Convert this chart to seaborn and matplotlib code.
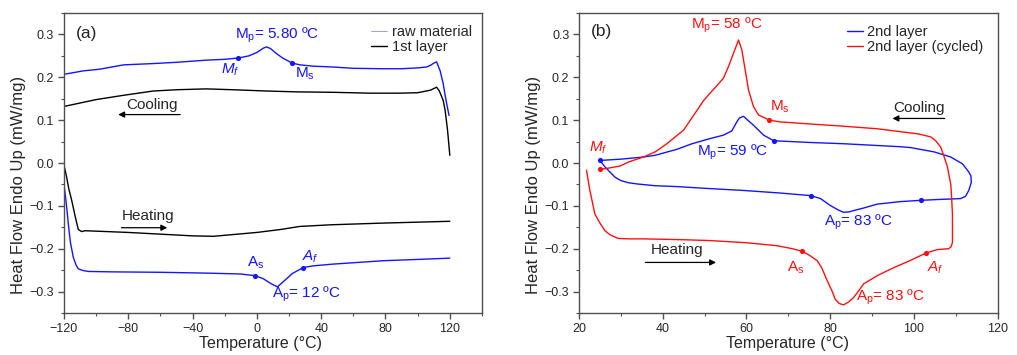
import matplotlib
matplotlib.use("Agg")
import matplotlib.pyplot as plt
from matplotlib.ticker import MultipleLocator
import pandas as pd
import seaborn as sns

# ---- data (temperature in C, heat flow in mW/mg) ----
# panel (a): raw material, cooling and heating runs
raw_cool_T = [119.5, 118, 117, 115.9, 114, 111.8, 110, 108, 105.5, 100, 90, 78.6, 60, 47.5, 35,
              27, 22, 19, 16, 12, 8.5, 6, 4, 0, -5, -11.6, -20, -31.5, -50, -65, -83, -97.6,
              -108, -120]
raw_cool_H = [0.111, 0.14, 0.16, 0.185, 0.215, 0.236, 0.233, 0.228, 0.224, 0.222, 0.220, 0.220,
              0.221, 0.224, 0.226, 0.229, 0.233, 0.239, 0.245, 0.256, 0.267, 0.271, 0.268, 0.258,
              0.250, 0.245, 0.242, 0.240, 0.235, 0.232, 0.229, 0.219, 0.215, 0.207]
raw_heat_T = [-120, -119, -118, -117.3, -116, -114.2, -112.5, -111.1, -108, -104.9, -90, -60, -30,
              -10, -1, 4, 9, 12.8, 17, 22, 28.8, 35, 47, 78.6, 100, 120]
raw_heat_H = [-0.05, -0.08, -0.115, -0.142, -0.185, -0.22, -0.238, -0.247, -0.251, -0.253, -0.254,
              -0.255, -0.257, -0.259, -0.263, -0.270, -0.282, -0.289, -0.275, -0.258, -0.244,
              -0.240, -0.236, -0.228, -0.225, -0.222]

# panel (a): 1st layer
l1_cool_T = [120, 119, 118.5, 117, 115.9, 113.5, 111.8, 108, 100, 89, 70, 47.5, 25, 6, -15,
             -31.5, -50, -64.5, -83, -100, -110, -120]
l1_cool_H = [0.018, 0.06, 0.08, 0.125, 0.146, 0.168, 0.177, 0.170, 0.164, 0.163, 0.163, 0.165,
             0.166, 0.168, 0.171, 0.173, 0.171, 0.168, 0.158, 0.148, 0.140, 0.132]
l1_heat_T = [-120, -118.5, -117, -115.2, -113, -111.1, -109, -107, -100, -80, -60, -40, -27, -15,
             0, 15, 26.6, 47, 80, 120]
l1_heat_H = [-0.005, -0.03, -0.06, -0.087, -0.125, -0.155, -0.160, -0.158, -0.159, -0.162, -0.166,
             -0.170, -0.171, -0.167, -0.162, -0.155, -0.148, -0.144, -0.140, -0.136]

# panel (b): 2nd layer, one closed loop (heating then cooling)
l2_T = [25, 26.2, 27.4, 28.6, 30, 31.8, 34, 38.2, 43.4, 50, 59.3, 68, 75.3, 77.7, 80, 82, 83.2,
        84.5, 85.6, 88, 91.2, 96.8, 101.8, 106, 108.8, 111.1, 112.3, 113.1, 113.7, 113.6, 113.1,
        111.6, 108.8, 104.8, 99.2, 96.8, 91, 83.2, 75, 66.5, 64.1, 61.7, 60.3, 59.3, 58.3, 57.7,
        56.5, 54.5, 51.3, 47, 43.4, 38.2, 35.4, 30, 25]
l2_H = [0.006, -0.009, -0.021, -0.033, -0.041, -0.046, -0.049, -0.053, -0.055, -0.059, -0.064,
        -0.070, -0.076, -0.083, -0.099, -0.110, -0.115, -0.114, -0.111, -0.105, -0.096, -0.090,
        -0.087, -0.085, -0.084, -0.083, -0.078, -0.064, -0.045, -0.030, -0.021, -0.002, 0.014,
        0.026, 0.036, 0.038, 0.041, 0.045, 0.048, 0.052, 0.065, 0.088, 0.100, 0.109, 0.105,
        0.096, 0.075, 0.065, 0.057, 0.045, 0.032, 0.018, 0.014, 0.009, 0.006]

# panel (b): 2nd layer (cycled), heating run then cooling run
cyc_T = [21.8, 22.6, 23.8, 25, 26.2, 27.5, 29.4, 32, 35.4, 45, 51.3, 60, 67.3, 71, 73.3, 75, 76.9,
         78, 79.3, 80.5, 81.2, 82.2, 83.2, 84.3, 85.6, 88, 91.2, 95.2, 99, 102.9, 105.6, 108.3,
         108.9, 109.2, 109.2, 109.0, 108.8, 108.4, 108, 107.3, 106.4, 105.2, 104, 101, 96.8, 91.2,
         83, 75.3, 68, 65.5, 62.9, 61.7, 60.5, 59.7, 58.9, 58.1, 56.9, 55.7, 54.5, 52.9, 51.3,
         49.7, 48.2, 45, 41, 38.2, 35.4, 32, 29.8, 27, 25]
cyc_H = [-0.017, -0.064, -0.119, -0.14, -0.158, -0.168, -0.176, -0.177, -0.177, -0.179, -0.181,
         -0.186, -0.193, -0.200, -0.206, -0.215, -0.228, -0.245, -0.275, -0.300, -0.318, -0.328,
         -0.331, -0.325, -0.314, -0.282, -0.263, -0.244, -0.228, -0.210, -0.202, -0.200, -0.195,
         -0.185, -0.12, -0.08, -0.05, -0.03, -0.009, 0.012, 0.037, 0.052, 0.061, 0.068, 0.073,
         0.080, 0.086, 0.091, 0.096, 0.100, 0.112, 0.131, 0.170, 0.217, 0.264, 0.287, 0.256,
         0.225, 0.198, 0.180, 0.163, 0.145, 0.123, 0.077, 0.045, 0.026, 0.014, 0.003, -0.007,
         -0.012, -0.015]

# marked transformation points
a_pts_T = [-11.6, 22, -1, 28.8]
a_pts_H = [0.245, 0.233, -0.263, -0.244]
b_blue_pts_T = [25, 66.5, 75.3, 101.8]
b_blue_pts_H = [0.006, 0.052, -0.076, -0.087]
b_red_pts_T = [25, 65.5, 73.3, 102.9]
b_red_pts_H = [-0.015, 0.100, -0.206, -0.210]

BLUE = "#1414ff"
RED = "#ff1010"

sns.set_style("ticks")
plt.rcParams["font.family"] = ["Liberation Sans", "DejaVu Sans"]
plt.rcParams["mathtext.fontset"] = "custom"
plt.rcParams["mathtext.rm"] = "Liberation Sans"
plt.rcParams["mathtext.it"] = "Liberation Sans:italic"
plt.rcParams["axes.edgecolor"] = "#505050"
plt.rcParams["axes.linewidth"] = 1.0

fig = plt.figure(figsize=(10.17, 3.55), dpi=100)
ax1 = fig.add_axes([0.0629, 0.1183, 0.411, 0.845])
ax2 = fig.add_axes([0.5693, 0.1183, 0.4117, 0.845])


def curve(ax, T, H, color, label=None):
    df = pd.DataFrame({"T": T, "H": H})
    sns.lineplot(data=df, x="T", y="H", sort=False, estimator=None, color=color, lw=1.0,
                 ax=ax, label=label)


def dots(ax, T, H, color):
    df = pd.DataFrame({"T": T, "H": H})
    sns.scatterplot(data=df, x="T", y="H", color=color, s=14, edgecolor=color, linewidth=0,
                    ax=ax, zorder=5)


# ---- panel (a) ----
curve(ax1, raw_cool_T, raw_cool_H, BLUE, "raw material")
curve(ax1, raw_heat_T, raw_heat_H, BLUE)
curve(ax1, l1_cool_T, l1_cool_H, "black", "1st layer")
curve(ax1, l1_heat_T, l1_heat_H, "black")
dots(ax1, a_pts_T, a_pts_H, BLUE)

ax1.set_xlim(-120, 140)
ax1.xaxis.set_major_locator(MultipleLocator(40))
ax1.xaxis.set_minor_locator(MultipleLocator(20))

fs = 11
ax1.text(-106, 0.303, "(a)", fontsize=12.5, ha="center", va="center")
ax1.text(12.3, 0.297, r"M$_\mathrm{p}$= 5.80 ºC", color=BLUE, fontsize=fs, ha="center", va="center")
ax1.text(-16.8, 0.217, r"$M_f$", color=BLUE, fontsize=fs, ha="center", va="center")
ax1.text(29.9, 0.208, r"M$_\mathrm{s}$", color=BLUE, fontsize=fs, ha="center", va="center")
ax1.text(-0.6, -0.232, r"A$_\mathrm{s}$", color=BLUE, fontsize=fs, ha="center", va="center")
ax1.text(33, -0.218, r"$A_f$", color=BLUE, fontsize=fs, ha="center", va="center")
ax1.text(30.9, -0.306, r"A$_\mathrm{p}$= 12 ºC", color=BLUE, fontsize=fs, ha="center", va="center")
ax1.text(-65.5, 0.136, "Cooling", fontsize=fs, ha="center", va="center")
ax1.annotate("", xy=(-88, 0.113), xytext=(-46, 0.113),
             arrowprops=dict(arrowstyle="-|>", color="black", lw=0.9, mutation_scale=9))
ax1.text(-68, -0.124, "Heating", fontsize=fs, ha="center", va="center")
ax1.annotate("", xy=(-54, -0.151), xytext=(-86, -0.151),
             arrowprops=dict(arrowstyle="-|>", color="black", lw=0.9, mutation_scale=9))

leg1 = ax1.legend(loc="upper right", bbox_to_anchor=(1.0, 0.995), frameon=False, fontsize=10.5,
                  handlelength=1.1, handletextpad=0.3, labelspacing=0.1, borderaxespad=0.3)
leg1.get_lines()[0].set_linewidth(0.6)
leg1.get_lines()[0].set_color("#8c8cff")

# ---- panel (b) ----
curve(ax2, l2_T, l2_H, BLUE, "2nd layer")
curve(ax2, cyc_T, cyc_H, RED, "2nd layer (cycled)")
dots(ax2, b_blue_pts_T, b_blue_pts_H, BLUE)
dots(ax2, b_red_pts_T, b_red_pts_H, RED)

ax2.set_xlim(20, 120)
ax2.xaxis.set_major_locator(MultipleLocator(20))
ax2.xaxis.set_minor_locator(MultipleLocator(10))

ax2.text(25.4, 0.307, "(b)", fontsize=12.5, ha="center", va="center")
ax2.text(55.3, 0.322, r"M$_\mathrm{p}$= 58 ºC", color=RED, fontsize=fs, ha="center", va="center")
ax2.text(68.1, 0.131, r"M$_\mathrm{s}$", color=RED, fontsize=fs, ha="center", va="center")
ax2.text(24.5, 0.035, r"$M_f$", color=RED, fontsize=fs, ha="center", va="center")
ax2.text(56.8, 0.026, r"M$_\mathrm{p}$= 59 ºC", color=BLUE, fontsize=fs, ha="center", va="center")
ax2.text(86.8, -0.138, r"A$_\mathrm{p}$= 83 ºC", color=BLUE, fontsize=fs, ha="center", va="center")
ax2.text(94.4, -0.314, r"A$_\mathrm{p}$= 83 ºC", color=RED, fontsize=fs, ha="center", va="center")
ax2.text(71.7, -0.244, r"A$_\mathrm{s}$", color=RED, fontsize=fs, ha="center", va="center")
ax2.text(105.2, -0.244, r"$A_f$", color=RED, fontsize=fs, ha="center", va="center")
ax2.text(101.2, 0.128, "Cooling", fontsize=fs, ha="center", va="center")
ax2.annotate("", xy=(94.2, 0.104), xytext=(108, 0.104),
             arrowprops=dict(arrowstyle="-|>", color="black", lw=0.9, mutation_scale=9))
ax2.text(43.4, -0.203, "Heating", fontsize=fs, ha="center", va="center")
ax2.annotate("", xy=(53.4, -0.232), xytext=(35.2, -0.232),
             arrowprops=dict(arrowstyle="-|>", color="black", lw=0.9, mutation_scale=9))

ax2.legend(loc="upper right", bbox_to_anchor=(0.99, 0.995), frameon=False, fontsize=10.5,
           handlelength=1.1, handletextpad=0.3, labelspacing=0.1, borderaxespad=0.3)

for ax in (ax1, ax2):
    ax.set_ylim(-0.35, 0.35)
    ax.yaxis.set_major_locator(MultipleLocator(0.1))
    ax.yaxis.set_minor_locator(MultipleLocator(0.05))
    ax.tick_params(which="major", direction="out", length=4, width=1, labelsize=9,
                   color="#505050", pad=3)
    ax.tick_params(which="minor", direction="out", length=2.5, width=0.8, color="#505050")
    ax.set_xlabel("Temperature (°C)", fontsize=11.5, labelpad=1)
    ax.set_ylabel("Heat Flow Endo Up (mW/mg)", fontsize=12)
    ax.yaxis.set_label_coords(-0.09, 0.427)

ax1.xaxis.set_label_coords(0.471, -0.075)
ax2.xaxis.set_label_coords(0.499, -0.075)

fig.savefig("out.png", dpi=100)
